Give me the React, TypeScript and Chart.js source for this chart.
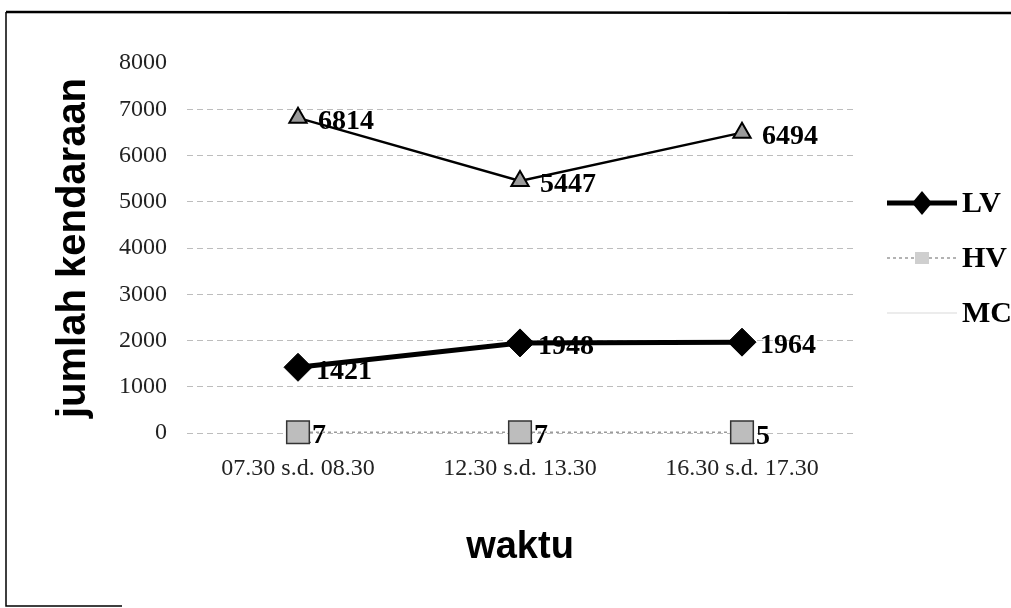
import React, { useEffect, useRef } from "react";
import { Chart, registerables } from "chart.js";

Chart.register(...registerables);

const categories = ["07.30 s.d. 08.30", "12.30 s.d. 13.30", "16.30 s.d. 17.30"];
const lvValues = [1421, 1948, 1964];
const hvValues = [17, 17, 15];
const mcValues = [6814, 5447, 6494];
const seriesNames = ["LV", "HV", "MC"];
const yTicks = [0, 1000, 2000, 3000, 4000, 5000, 6000, 7000, 8000];
const yTitle = "jumlah kendaraan";
const xTitle = "waktu";

const labelOffsets = [18, 0, 20];

const framePlugin = {
  id: "frame",
  beforeDraw(chart: any) {
    const ctx = chart.ctx;
    ctx.save();
    ctx.fillStyle = "#ffffff";
    ctx.fillRect(0, 0, chart.width, chart.height);
    ctx.strokeStyle = "#000";
    ctx.lineWidth = 2.5;
    ctx.beginPath();
    ctx.moveTo(6, 12);
    ctx.lineTo(chart.width, 13);
    ctx.stroke();
    ctx.lineWidth = 1.5;
    ctx.beginPath();
    ctx.moveTo(6, 12);
    ctx.lineTo(6, 606);
    ctx.lineTo(122, 606);
    ctx.stroke();
    ctx.restore();
  },
};

const labelPlugin = {
  id: "pointLabels",
  beforeDatasetsDraw(chart: any) {
    const ctx = chart.ctx;
    ctx.save();
    ctx.font = "bold 28px 'Liberation Serif'";
    ctx.fillStyle = "#000";
    ctx.textAlign = "left";
    ctx.textBaseline = "middle";
    chart.data.datasets.forEach((ds: any, i: number) => {
      const meta = chart.getDatasetMeta(i);
      meta.data.forEach((pt: any, j: number) => {
        ctx.fillText(String(ds.data[j]), pt.x + labelOffsets[i], pt.y + 4);
      });
    });
    ctx.restore();
  },
};

const legendPlugin = {
  id: "sideLegend",
  afterDraw(chart: any) {
    const ctx = chart.ctx;
    const ys = [203, 258, 313];
    ctx.save();
    chart.data.datasets.forEach((ds: any, i: number) => {
      const y = ys[i];
      ctx.save();
      ctx.strokeStyle = i === 2 ? "#e6e6e6" : ds.borderColor;
      ctx.lineWidth = i === 0 ? 5 : 1.5;
      ctx.setLineDash(ds.borderDash || []);
      ctx.beginPath();
      ctx.moveTo(887, y);
      ctx.lineTo(957, y);
      ctx.stroke();
      ctx.restore();
      if (i === 0) {
        ctx.fillStyle = "#000";
        ctx.beginPath();
        ctx.moveTo(922, y - 12);
        ctx.lineTo(932, y);
        ctx.lineTo(922, y + 12);
        ctx.lineTo(912, y);
        ctx.closePath();
        ctx.fill();
      } else if (i === 1) {
        ctx.fillStyle = "#cfcfcf";
        ctx.fillRect(915, y - 6, 14, 12);
      }
      ctx.fillStyle = "#000";
      ctx.font = "bold 30px 'Liberation Serif'";
      ctx.textAlign = "left";
      ctx.textBaseline = "middle";
      ctx.fillText(seriesNames[i], 962, y + 1);
    });
    ctx.restore();
  },
};

export default function App() {
  const ref = useRef<HTMLCanvasElement | null>(null);
  useEffect(() => {
    if (!ref.current) return;
    Chart.defaults.font.family = "'Liberation Serif'";
    const chart = new Chart(ref.current, {
      type: "line",
      data: {
        labels: categories,
        datasets: [
          {
            label: seriesNames[0],
            data: lvValues,
            borderColor: "#000",
            backgroundColor: "#000",
            borderWidth: 5,
            pointStyle: "rectRot",
            pointRadius: 14,
            pointBorderWidth: 1,
            pointBorderColor: "#000",
            pointBackgroundColor: "#000",
            tension: 0,
            clip: false,
          },
          {
            label: seriesNames[1],
            data: hvValues,
            borderColor: "#9a9a9a",
            backgroundColor: "#b5b5b5",
            borderWidth: 1.5,
            borderDash: [3, 3],
            pointStyle: "rect",
            pointRadius: 16,
            pointBorderWidth: 1.5,
            pointBorderColor: "#333",
            pointBackgroundColor: "#bdbdbd",
            tension: 0,
            clip: false,
          },
          {
            label: seriesNames[2],
            data: mcValues,
            borderColor: "#000",
            backgroundColor: "#000",
            borderWidth: 2.5,
            pointStyle: "triangle",
            pointRadius: 10,
            pointBorderWidth: 2,
            pointBorderColor: "#000",
            pointBackgroundColor: "#9a9a9a",
            tension: 0,
            clip: false,
          },
        ],
      },
      options: {
        responsive: false,
        animation: false,
        layout: { padding: { left: 0, right: 158, top: 63, bottom: 0 } },
        plugins: {
          legend: { display: false },
          tooltip: { enabled: false },
          title: { display: false },
        },
        scales: {
          x: {
            type: "category",
            offset: true,
            grid: { display: false, drawTicks: false },
            border: { display: false },
            ticks: {
              color: "#222",
              font: { size: 24, family: "'Liberation Serif'" },
              padding: 21,
              maxRotation: 0,
              autoSkip: false,
            },
            title: {
              display: true,
              text: xTitle,
              color: "#000",
              font: { size: 38, weight: "bold", family: "'Liberation Sans'" },
              padding: { top: 0, bottom: 38 },
            },
            afterFit(scale: any) {
              scale.height = 175;
            },
          },
          y: {
            min: 0,
            max: 8000,
            afterBuildTicks(scale: any) {
              scale.ticks = yTicks.map((v) => ({ value: v }));
            },
            grid: {
              drawTicks: false,
              color: (c: any) => (c.tick && c.tick.value === 8000 ? "rgba(0,0,0,0)" : "#bdbdbd"),
              lineWidth: 1,
            },
            border: { display: false, dash: [6, 4] },
            ticks: {
              color: "#222",
              font: { size: 24, family: "'Liberation Serif'" },
              padding: 20,
              callback: (v: any) => String(v),
            },
            title: {
              display: true,
              text: yTitle,
              color: "#000",
              font: { size: 40, weight: "bold", family: "'Liberation Sans'" },
              padding: { top: 50, bottom: 0 },
            },
            afterFit(scale: any) {
              scale.width = 187;
            },
          },
        },
      },
      plugins: [framePlugin, labelPlugin, legendPlugin],
    });
    return () => chart.destroy();
  }, []);
  return (
    <div style={{ position: "absolute", left: 0, top: 0, width: 1011, height: 608, background: "#fff" }}>
      <canvas ref={ref} width={1011} height={608} style={{ display: "block" }} />
    </div>
  );
}
